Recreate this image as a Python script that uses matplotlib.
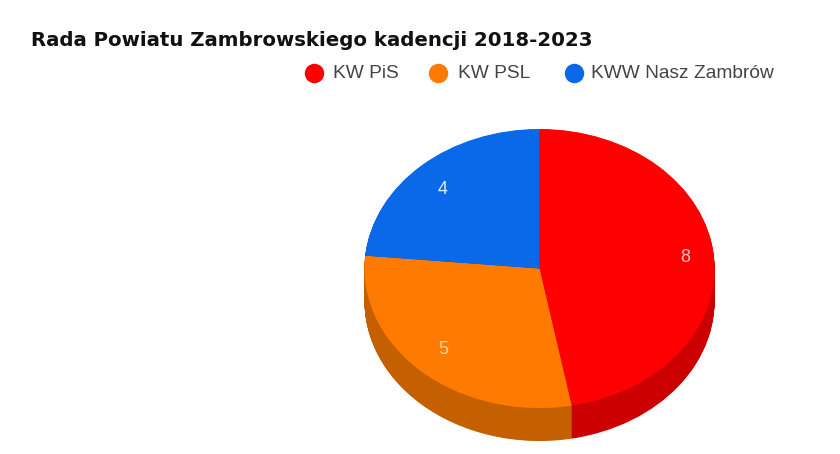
import matplotlib
matplotlib.use("Agg")
import matplotlib.pyplot as plt
from matplotlib.lines import Line2D

parties = ["KW PiS", "KW PSL", "KWW Nasz Zambrów"]
seats = [8, 5, 4]
top_colors = ["#ff0000", "#ff7a00", "#0a69e8"]
side_colors = ["#cc0000", "#c46000", "#07479c"]
label_colors = ["#ffc4c0", "#ffd49a", "#dfeeff"]
title = "Rada Powiatu Zambrowskiego kadencji 2018-2023"

W, H = 840, 454
fig = plt.figure(figsize=(W / 100, H / 100), dpi=100, facecolor="white")

cx, cy, rx, ry, depth = 539.5, 268.5, 175, 139.5, 33
ax = fig.add_axes([(cx - rx) / W, 1 - (cy + ry) / H, 2 * rx / W, 2 * ry / H])

for step in range(depth * 2, 0, -1):
    off = -step / 2 / ry
    ax.pie(seats, colors=side_colors, startangle=90, counterclock=False,
           center=(0, off), radius=1, wedgeprops={"linewidth": 0})
ax.pie(seats, colors=top_colors, startangle=90, counterclock=False,
       center=(0, 0), radius=1, wedgeprops={"linewidth": 0})
ax.set_aspect("auto")
ax.set_xlim(-1, 1)
ax.set_ylim(-1, 1)
ax.set_axis_off()
ax.patch.set_visible(False)
for p in ax.patches:
    p.set_clip_on(False)

# value labels
label_pos = [(685, 258), (443, 349), (443, 189)]
for v, (x, y), c in zip(seats, label_pos, label_colors):
    fig.text(x / W, 1 - y / H, str(v), color=c, fontsize=13,
             family="Liberation Sans", ha="center", va="center")

fig.text(31 / W, 1 - 40 / H, title, fontsize=14.2, fontweight="bold",
         family="DejaVu Sans", color="#111111", ha="left", va="center")

handles = [(314, 333), (438, 458), (574, 591)]
for (mx, tx), c, name in zip(handles, top_colors, parties):
    fig.add_artist(Line2D([mx / W], [1 - 73 / H], marker="o", markersize=14,
                          color=c, markeredgewidth=0, transform=fig.transFigure))
    fig.text(tx / W, 1 - 73 / H, name, fontsize=13.8, family="Liberation Sans",
             color="#444444", ha="left", va="center")

fig.savefig("out.png", dpi=100)
